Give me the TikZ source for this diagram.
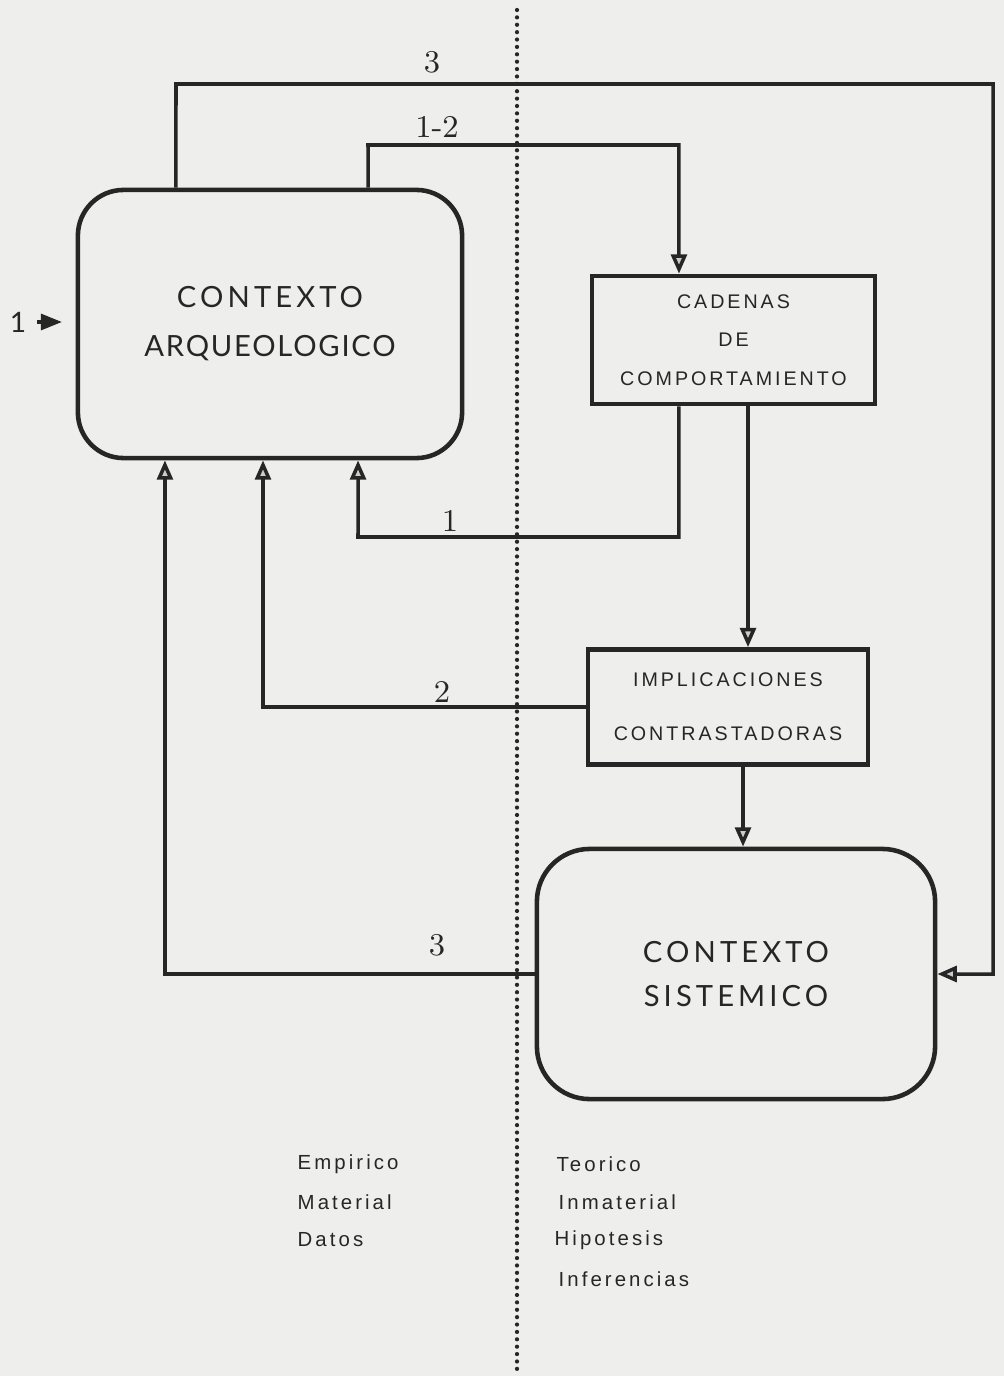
\documentclass[tikz,border=0pt]{standalone}
\usepackage{fontspec}
\newfontfamily\ctxfont{Lato}[LetterSpace=6]
\newfontfamily\ctxwide{Lato}[LetterSpace=14]
\newfontfamily\capsfont{Liberation Sans}[LetterSpace=15]
\usetikzlibrary{arrows.meta}
\definecolor{paper}{RGB}{238,238,236}
\definecolor{ink}{RGB}{38,38,38}
\tikzset{
	ctxbox/.style={draw=ink, line width=1.3pt, rounded corners=13pt, inner sep=0pt, align=center, text=ink, font=\ctxfont\fontsize{8.3}{13.9}\selectfont},
	chainbox/.style={draw=ink, line width=1.3pt, inner sep=0pt, align=center, text=ink},
	link/.style={draw=ink, line width=1pt, -{Triangle[length=5.5pt, width=4.5pt, fill=gray!40]}},
	inlink/.style={draw=ink, line width=1pt, -{Triangle[length=6pt, width=4.5pt]}, shorten <=2pt},
	numlbl/.style={font=\fontsize{9}{9}\selectfont, text=ink, inner sep=1pt},
	sidetxt/.style={anchor=west, font=\capsfont\fontsize{5.8}{6}\selectfont, inner sep=0pt, text=ink},
	divider/.style={draw=ink, line width=1.2pt, dash pattern=on 0pt off 2.1pt, line cap=round}
}
\begin{document}
\begin{tikzpicture}[x=0.01cm, y=-0.01cm]
	\fill[paper] (0,0) rectangle (1004,1376);
	\useasboundingbox (0,0) rectangle (1004,1376);
	\coordinate (divtop) at (517,10);
	\coordinate (divbot) at (517,1376);
	\draw[divider] (divtop) -- (divbot);

	\node[ctxbox, minimum width=3.84cm, minimum height=2.68cm] (arq) at (270,324) {{\ctxwide CONTEXTO}\\ARQUEOLOGICO};
	\node[chainbox, minimum width=2.83cm, minimum height=1.28cm, font=\capsfont\fontsize{5.6}{11}\selectfont] (cad) at (733.5,340) {CADENAS\\DE\\COMPORTAMIENTO};
	\node[chainbox, minimum width=2.8cm, minimum height=1.15cm, font=\capsfont\fontsize{5.6}{15.4}\selectfont] (impl) at (728,707) {IMPLICACIONES\\CONTRASTADORAS};
	\node[ctxbox, rounded corners=15pt, minimum width=3.98cm, minimum height=2.5cm, font=\ctxwide\fontsize{8.3}{12.4}\selectfont] (sis) at (736,974) {CONTEXTO\\SISTEMICO};

	\coordinate (k3a) at (176,84);
	\coordinate (k3b) at (993,84);
	\coordinate (k12) at (368,145);
	\coordinate (k1) at (358,537);
	\coordinate (in1tip) at (62,322);

	\draw[link] ([xshift=-0.94cm]arq.north) -- (k3a) -- (k3b) |- (sis.east);
	\draw[link] ([xshift=0.98cm]arq.north) -- (k12) -| ([xshift=-0.545cm]cad.north);
	\draw[link] ([xshift=-0.545cm]cad.south) |- (k1) -- ([xshift=0.88cm]arq.south);
	\draw[link] (impl.west) -| ([xshift=-0.07cm]arq.south);
	\draw[link] (sis.west) -| ([xshift=-1.05cm]arq.south);
	\draw[link] ([xshift=0.145cm]cad.south) -- ([xshift=0.145cm]cad.south |- impl.north);
	\draw[link] ([xshift=0.15cm]impl.south) -- ([xshift=0.15cm]impl.south |- sis.north);

	\node[numlbl, font=\ctxfont\fontsize{8}{8}\selectfont] (in1) at (18,322) {1};
	\draw[inlink] (in1) -- (in1tip);

	\node[numlbl] (l3top) at (432,62) {3};
	\node[numlbl] (l12) at (437,127) {1-2};
	\node[numlbl] (l1) at (450,521) {1};
	\node[numlbl] (l2) at (442,692) {2};
	\node[numlbl] (l3bot) at (437,945) {3};

	\node[sidetxt] (emp) at (297,1164) {Empirico};
	\node[sidetxt] (mat) at (297,1202) {Material};
	\node[sidetxt] (dat) at (297,1240) {Datos};
	\node[sidetxt] (teo) at (556,1164) {Teorico};
	\node[sidetxt] (inm) at (558,1202) {Inmaterial};
	\node[sidetxt] (hip) at (554,1240) {Hipotesis};
	\node[sidetxt] (inf) at (558,1279) {Inferencias};
\end{tikzpicture}
\end{document}
